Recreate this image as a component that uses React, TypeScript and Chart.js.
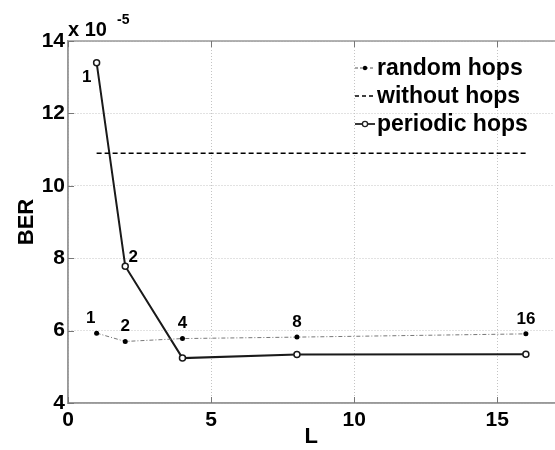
import React, { useEffect, useRef } from "react";
import { Chart, registerables } from "chart.js";

Chart.register(...registerables);

const Lvalues = [1, 2, 4, 8, 16];
const randomHops = [5.93, 5.7, 5.78, 5.82, 5.91];
const periodicHops = [13.4, 7.78, 5.24, 5.34, 5.35];
const withoutHopsX = [1, 16];
const withoutHops = [10.9, 10.9];
const xTicks = [0, 5, 10, 15];
const yTicks = [4, 6, 8, 10, 12, 14];
const seriesNames = ["random hops", "without hops", "periodic hops"];

const FONT = "'Liberation Sans', Arial, sans-serif";

const overlayPlugin = {
  id: "overlay",
  afterDraw(chart: any) {
    const ctx = chart.ctx;
    const area = chart.chartArea;
    const xs = chart.scales.x;
    const ys = chart.scales.y;
    ctx.save();
    ctx.setLineDash([]);
    // frame (top, left, bottom)
    ctx.strokeStyle = "#999";
    ctx.lineWidth = 1.5;
    ctx.beginPath();
    ctx.moveTo(area.left, area.top);
    ctx.lineTo(area.right + 5, area.top);
    ctx.moveTo(area.left, area.top);
    ctx.lineTo(area.left, area.bottom);
    ctx.lineTo(area.right + 5, area.bottom);
    ctx.stroke();
    // inward tick marks
    ctx.strokeStyle = "#777";
    ctx.lineWidth = 1;
    xTicks.forEach((v) => {
      const px = Math.round(xs.getPixelForValue(v)) + 0.5;
      ctx.beginPath();
      ctx.moveTo(px, area.bottom);
      ctx.lineTo(px, area.bottom - 6);
      ctx.moveTo(px, area.top);
      ctx.lineTo(px, area.top + 6);
      ctx.stroke();
    });
    yTicks.forEach((v) => {
      const py = Math.round(ys.getPixelForValue(v)) + 0.5;
      ctx.beginPath();
      ctx.moveTo(area.left, py);
      ctx.lineTo(area.left + 6, py);
      ctx.stroke();
    });

    // point labels
    ctx.fillStyle = "#000";
    ctx.font = `bold 17px ${FONT}`;
    ctx.textAlign = "center";
    ctx.textBaseline = "middle";
    Lvalues.forEach((l, i) => {
      const px = xs.getPixelForValue(l);
      const py = ys.getPixelForValue(randomHops[i]);
      const dx = i === 0 ? -6 : 0;
      ctx.fillText(String(l), px + dx, py - 15);
    });
    {
      const px = xs.getPixelForValue(Lvalues[0]);
      const py = ys.getPixelForValue(periodicHops[0]);
      ctx.fillText(String(Lvalues[0]), px - 10, py + 15);
      const px2 = xs.getPixelForValue(Lvalues[1]);
      const py2 = ys.getPixelForValue(periodicHops[1]);
      ctx.fillText(String(Lvalues[1]), px2 + 8, py2 - 9);
    }

    // exponent
    ctx.textAlign = "left";
    ctx.font = `bold 20px ${FONT}`;
    ctx.fillText("x 10", area.left, area.top - 11);
    ctx.font = `bold 14px ${FONT}`;
    ctx.fillText("-5", area.left + 49, area.top - 21);

    // legend
    const lx0 = area.left + 287;
    const lx1 = area.left + 307;
    const tx = area.left + 309;
    const rows = [area.top + 27, area.top + 55, area.top + 83];
    ctx.font = `bold 23px ${FONT}`;
    ctx.textBaseline = "middle";
    // random
    ctx.strokeStyle = "#555";
    ctx.lineWidth = 1;
    ctx.setLineDash([3, 2]);
    ctx.beginPath();
    ctx.moveTo(lx0, rows[0]);
    ctx.lineTo(lx1, rows[0]);
    ctx.stroke();
    ctx.setLineDash([]);
    ctx.fillStyle = "#000";
    ctx.beginPath();
    ctx.arc((lx0 + lx1) / 2, rows[0], 2.2, 0, Math.PI * 2);
    ctx.fill();
    // without
    ctx.strokeStyle = "#000";
    ctx.lineWidth = 1.3;
    ctx.setLineDash([4, 3]);
    ctx.beginPath();
    ctx.moveTo(lx0, rows[1]);
    ctx.lineTo(lx1, rows[1]);
    ctx.stroke();
    ctx.setLineDash([]);
    // periodic
    ctx.strokeStyle = "#222";
    ctx.lineWidth = 1.8;
    ctx.beginPath();
    ctx.moveTo(lx0, rows[2]);
    ctx.lineTo(lx1, rows[2]);
    ctx.stroke();
    ctx.fillStyle = "#fff";
    ctx.lineWidth = 1.3;
    ctx.beginPath();
    ctx.arc((lx0 + lx1) / 2, rows[2], 2.6, 0, Math.PI * 2);
    ctx.fill();
    ctx.stroke();
    ctx.fillStyle = "#000";
    seriesNames.forEach((n, i) => ctx.fillText(n, tx, rows[i] + 1));
    ctx.restore();
  },
};

export default function App() {
  const ref = useRef<HTMLCanvasElement>(null);
  useEffect(() => {
    document.body.style.margin = "0";
    document.body.style.overflow = "hidden";
    const canvas = ref.current!;
    const chart = new Chart(canvas, {
      type: "line",
      data: {
        datasets: [
          {
            label: seriesNames[0],
            data: Lvalues.map((x, i) => ({ x, y: randomHops[i] })),
            borderColor: "#777",
            borderWidth: 1,
            borderDash: [4, 2, 1, 2],
            pointRadius: 2.5,
            pointBackgroundColor: "#000",
            pointBorderColor: "#000",
            pointBorderWidth: 0,
          },
          {
            label: seriesNames[1],
            data: withoutHopsX.map((x, i) => ({ x, y: withoutHops[i] })),
            borderColor: "#000",
            borderWidth: 1.4,
            borderDash: [5, 3],
            pointRadius: 0,
          },
          {
            label: seriesNames[2],
            data: Lvalues.map((x, i) => ({ x, y: periodicHops[i] })),
            borderColor: "#1a1a1a",
            borderWidth: 2,
            pointRadius: 3,
            pointBackgroundColor: "#fff",
            pointBorderColor: "#1a1a1a",
            pointBorderWidth: 1.5,
          },
        ],
      },
      options: {
        responsive: false,
        animation: false,
        layout: { padding: { top: 41, right: 4, left: 0, bottom: 0 } },
        plugins: { legend: { display: false }, tooltip: { enabled: false } },
        scales: {
          x: {
            type: "linear",
            min: 0,
            max: 17,
            afterBuildTicks: (s: any) => {
              s.ticks = xTicks.map((v) => ({ value: v }));
            },
            afterFit: (s: any) => {
              s.height = 47;
            },
            ticks: {
              color: "#000",
              font: { family: FONT, size: 21, weight: "bold" },
              padding: 5,
              maxRotation: 0,
            },
            grid: { color: "#c4c4c4", lineWidth: 1, drawTicks: false },
            border: { color: "#999", width: 1.5, dash: [1, 2] },
            title: {
              display: true,
              text: "L",
              color: "#000",
              font: { family: FONT, size: 22, weight: "bold" },
              padding: { top: 4, bottom: 0 },
            },
          },
          y: {
            type: "linear",
            min: 4,
            max: 14,
            afterBuildTicks: (s: any) => {
              s.ticks = yTicks.map((v) => ({ value: v }));
            },
            ticks: {
              color: "#000",
              font: { family: FONT, size: 21, weight: "bold" },
              padding: 3,
            },
            afterFit: (s: any) => {
              s.width = 68;
            },
            grid: { color: "#c4c4c4", lineWidth: 1, drawTicks: false },
            border: { color: "#999", width: 1.5, dash: [1, 2] },
            title: {
              display: true,
              text: "BER",
              color: "#000",
              font: { family: FONT, size: 22, weight: "bold" },
              padding: { top: 14, bottom: 6 },
            },
          },
        },
      } as any,
      plugins: [overlayPlugin],
    });
    return () => chart.destroy();
  }, []);
  return (
    <div style={{ width: 555, height: 450, overflow: "hidden" }}>
      <canvas ref={ref} width={560} height={450} />
    </div>
  );
}
